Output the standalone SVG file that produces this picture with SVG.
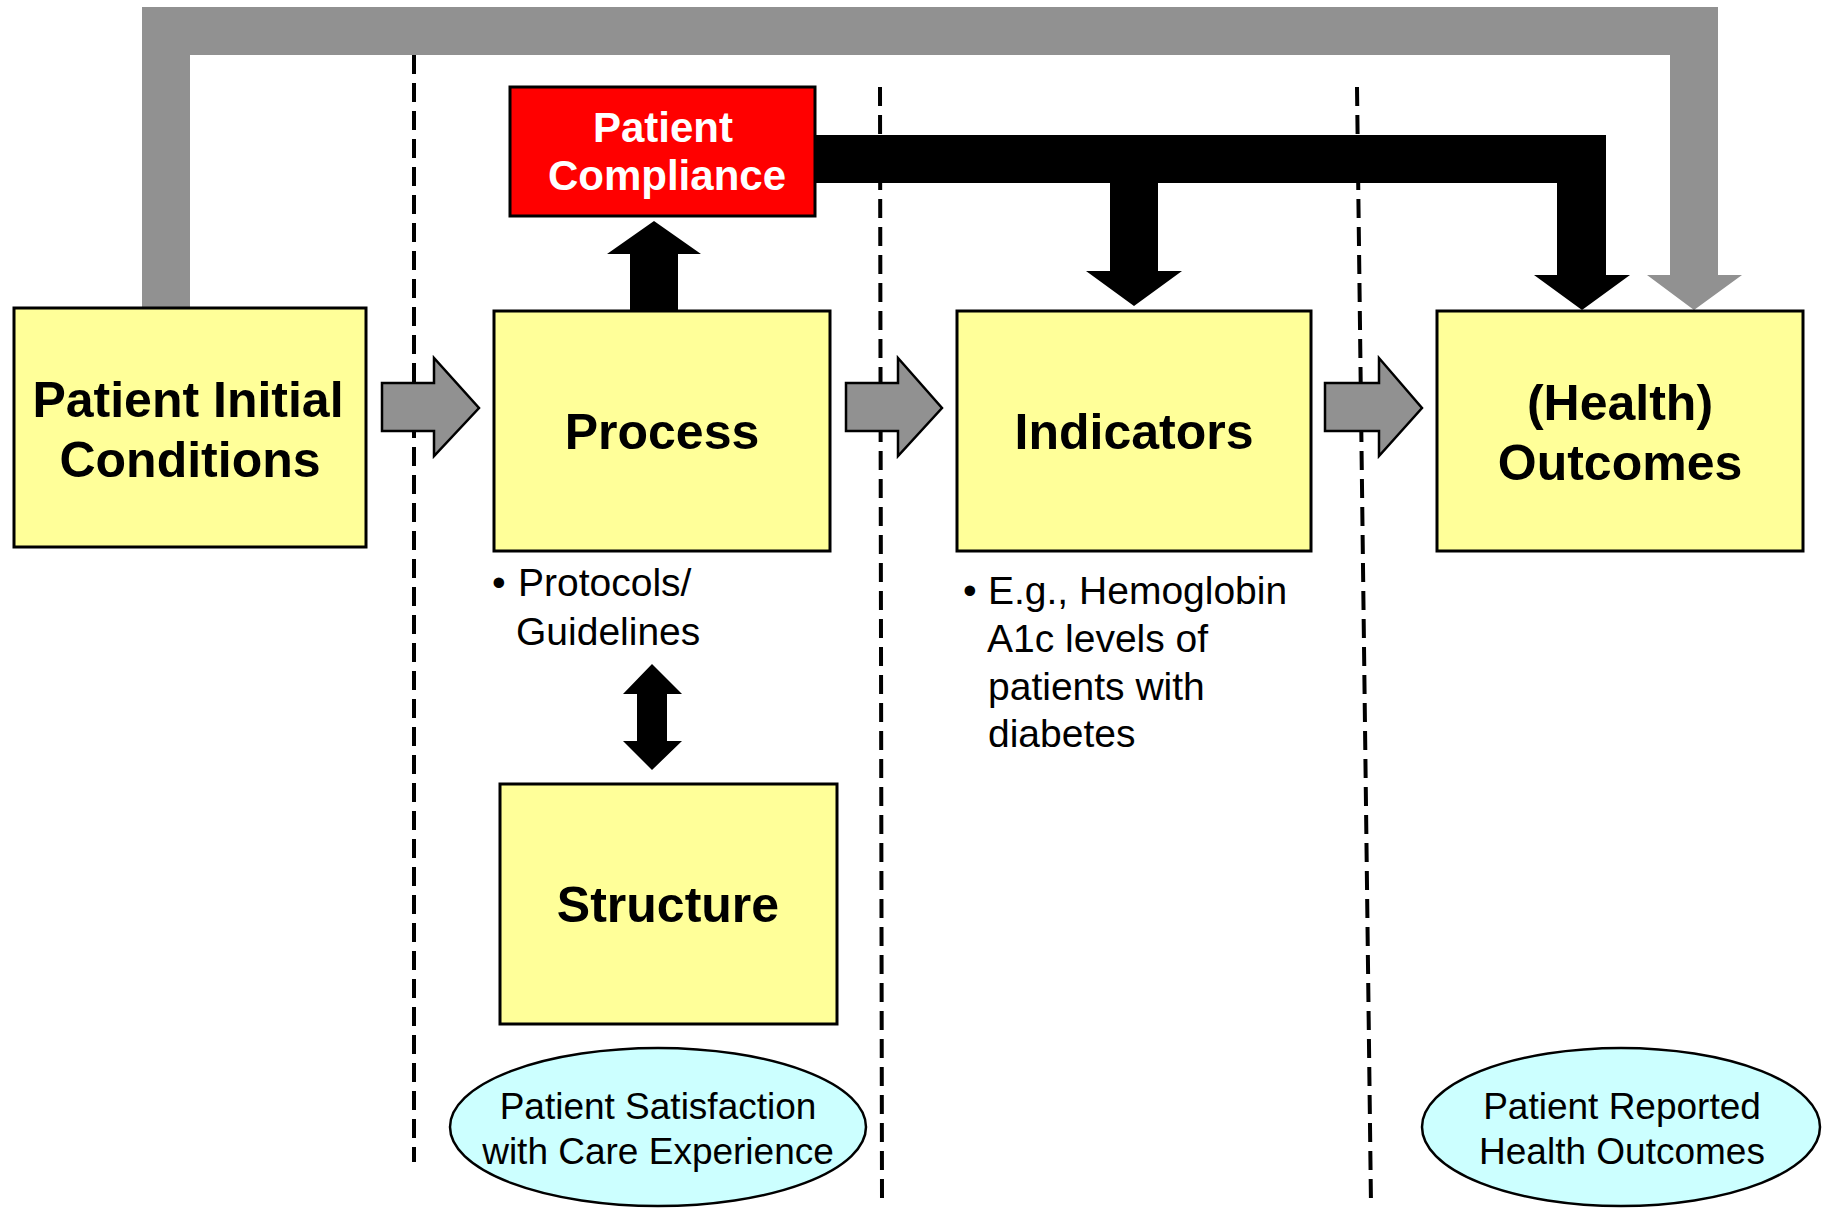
<svg xmlns="http://www.w3.org/2000/svg" width="1822" height="1209" viewBox="0 0 1822 1209">
<style>
.box{fill:#FFFF99;stroke:#000;stroke-width:3}
.ell{fill:#CCFFFF;stroke:#000;stroke-width:2.5}
.dash{stroke:#000;stroke-width:4;stroke-dasharray:19 9;fill:none}
.garrow{fill:#919191;stroke:#000;stroke-width:2.5;stroke-linejoin:miter}
.gray{fill:#919191}
.blk{fill:#000}
.big{font-family:"Liberation Sans",Arial,sans-serif;font-weight:bold;font-size:50px;fill:#000;text-anchor:middle}
.red{font-family:"Liberation Sans",Arial,sans-serif;font-weight:bold;font-size:42px;fill:#fff;text-anchor:middle}
.body{font-family:"Liberation Sans",Arial,sans-serif;font-size:39px;fill:#000}
.ov{font-family:"Liberation Sans",Arial,sans-serif;font-size:37px;fill:#000;text-anchor:middle}
</style>
<rect width="1822" height="1209" fill="#fff"/>
<g id="dividers">
<line class="dash" x1="414" y1="55" x2="414" y2="1162"/>
<line class="dash" x1="880" y1="87" x2="882" y2="1200"/>
<line class="dash" x1="1357" y1="87" x2="1371" y2="1205"/>
</g>
<g id="connectors">
<path class="gray" d="M142,307 L142,7 L1718,7 L1718,275 L1742,275 L1694,310 L1647,275 L1670,275 L1670,55 L190,55 L190,307 Z"/>
<path class="blk" d="M815,135 L1606,135 L1606,275 L1630,275 L1582,310 L1534,275 L1557,275 L1557,183 L1158,183 L1158,271 L1182,271 L1134,306 L1086,271 L1110,271 L1110,183 L815,183 Z"/>
<path class="blk" d="M630,311 L630,254 L607,254 L654,221 L701,254 L678,254 L678,311 Z"/>
<path class="blk" d="M652,664 L682,694 L667,694 L667,741 L682,741 L652,770 L623,741 L637,741 L637,694 L623,694 Z"/>
<path class="garrow" d="M382,383 L434,383 L434,358 L479,408 L434,456 L434,431 L382,431 Z"/>
<path class="garrow" d="M846,383 L898,383 L898,358 L942,408 L898,456 L898,431 L846,431 Z"/>
<path class="garrow" d="M1325,383 L1379,383 L1379,358 L1422,408 L1379,456 L1379,431 L1325,431 Z"/>
</g>
<g id="initial">
<rect class="box" x="14" y="308" width="352" height="239"/>
<text class="big" x="188" y="417">Patient Initial</text>
<text class="big" x="190" y="477">Conditions</text>
</g>
<g id="compliance">
<rect x="510" y="87" width="305" height="129" fill="#FF0000" stroke="#000" stroke-width="3"/>
<text class="red" x="663" y="142">Patient</text>
<text class="red" x="667" y="190">Compliance</text>
</g>
<g id="process">
<rect class="box" x="494" y="311" width="336" height="240"/>
<text class="big" x="662" y="449">Process</text>
</g>
<g id="process-note">
<text class="body" x="492" y="596">•</text>
<text class="body" x="518" y="596">Protocols/</text>
<text class="body" x="516" y="645">Guidelines</text>
</g>
<g id="indicators">
<rect class="box" x="957" y="311" width="354" height="240"/>
<text class="big" x="1134" y="449">Indicators</text>
</g>
<g id="indicators-note">
<text class="body" x="963" y="604">•</text>
<text class="body" x="988" y="604">E.g., Hemoglobin</text>
<text class="body" x="987" y="652">A1c levels of</text>
<text class="body" x="988" y="700">patients with</text>
<text class="body" x="988" y="747">diabetes</text>
</g>
<g id="outcomes">
<rect class="box" x="1437" y="311" width="366" height="240"/>
<text class="big" x="1620" y="420">(Health)</text>
<text class="big" x="1620" y="480">Outcomes</text>
</g>
<g id="structure">
<rect class="box" x="500" y="784" width="337" height="240"/>
<text class="big" x="668" y="922">Structure</text>
</g>
<g id="satisfaction">
<ellipse class="ell" cx="658" cy="1127" rx="208" ry="79"/>
<text class="ov" x="658" y="1119">Patient Satisfaction</text>
<text class="ov" x="658" y="1164">with Care Experience</text>
</g>
<g id="reported">
<ellipse class="ell" cx="1621" cy="1127" rx="199" ry="79"/>
<text class="ov" x="1622" y="1119">Patient Reported</text>
<text class="ov" x="1622" y="1164">Health Outcomes</text>
</g>
</svg>
